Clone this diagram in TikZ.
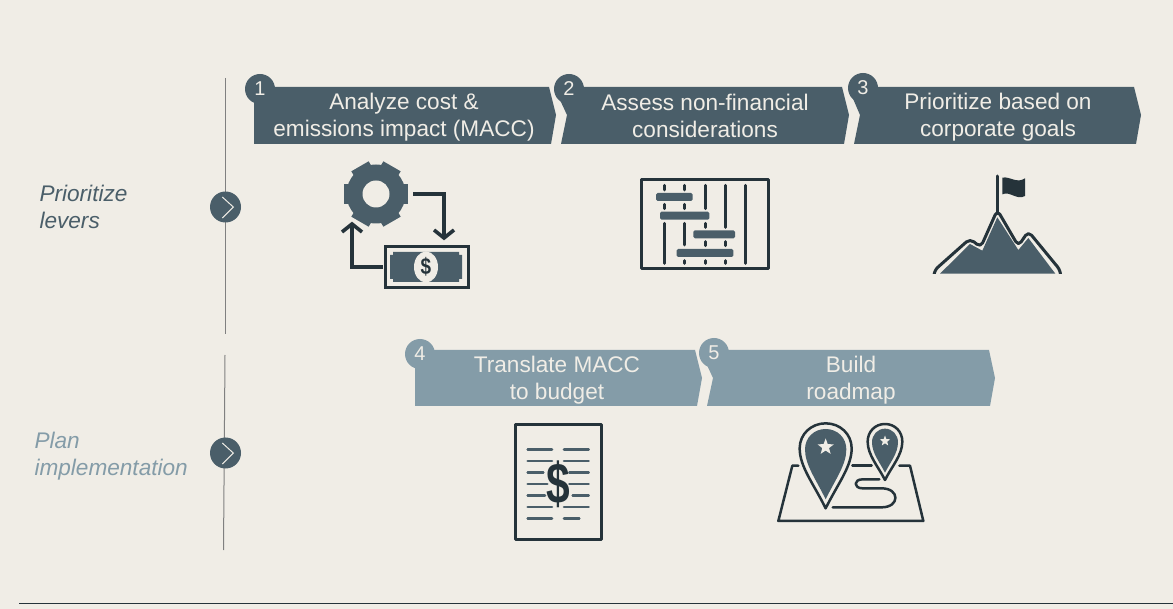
\documentclass[tikz,border=0pt]{standalone}
\usepackage{fontspec}
\usepackage{graphicx}
\setmainfont{Liberation Sans}
\usetikzlibrary{shapes.geometric}
\definecolor{paper}{HTML}{F0EDE6}
\definecolor{slate}{HTML}{4A5E69}
\definecolor{steel}{HTML}{849CA8}
\definecolor{ink}{HTML}{25333A}
\tikzset{
	steptext/.style={text=paper, align=center, font=\fontsize{22.6}{27}\selectfont},
	numdot/.style={circle, minimum size=30pt, inner sep=0pt, text=paper, font=\fontsize{20}{20}\selectfont},
	sidetext/.style={align=left, anchor=west, font=\itshape\fontsize{22.6}{27}\selectfont},
	ticknode/.style={circle, fill=slate, minimum size=31pt, inner sep=0pt},
	tickmark/.style={draw=paper, line width=1pt},
	rail/.style={draw=black!50, line width=1pt},
	inkline/.style={draw=ink, line width=3pt, line cap=round, line join=round},
	arrowline/.style={draw=ink, line width=3.6pt, line join=miter},
	thinink/.style={draw=ink, line width=2.5pt, line cap=round, line join=round},
	docline/.style={draw=slate, line width=2.6pt, line cap=round},
	ganttbar/.style={fill=slate, rounded corners=1.5pt},
	starmark/.style={star, star points=5, star point ratio=2.4, fill=paper, inner sep=0pt}
}
\begin{document}
\begin{tikzpicture}[x=1pt, y=-1pt]
	\fill[paper] (0,0) rectangle (1173,609);
	\useasboundingbox (0,0) rectangle (1173,609);

	% steps
	\fill[slate] (254,87)--(549,87)--(556,115)--(551,144)--(254,144)--cycle;
	\fill[slate] (554,87)--(842,87)--(849,115)--(844,144)--(561,144)--(567,115)--cycle;
	\fill[slate] (848,87)--(1134,87)--(1141,115)--(1136,144)--(854,144)--(860,115)--cycle;
	\fill[steel] (415,350)--(695,350)--(702,378)--(697,406)--(415,406)--cycle;
	\fill[steel] (700,350)--(989,350)--(995,378)--(990,406)--(707,406)--(713,378)--cycle;

	\node[steptext] (analyze) at (404,117.6) {Analyze cost \&\\emissions impact (MACC)};
	\node[steptext] (assess) at (705,116.2) {Assess non-financial\\considerations};
	\node[steptext] (goals) at (998,117.6) {Prioritize based on\\corporate goals};
	\node[steptext] (budget) at (557,380) {Translate MACC\\to budget};
	\node[steptext] (roadmap) at (851,380) {Build\\roadmap};

	\node[numdot, fill=slate] (one) at (260,89) {1};
	\node[numdot, fill=slate] (two) at (569,89) {2};
	\node[numdot, fill=slate] (three) at (863,88) {3};
	\node[numdot, fill=steel] (four) at (420,354) {4};
	\node[numdot, fill=steel] (five) at (714,353) {5};

	% left rail
	\coordinate (railA) at (225,78);
	\coordinate (railB) at (225,334);
	\coordinate (railC) at (225,355);
	\coordinate (railD) at (223.5,550);
	\draw[rail] (railA)--(railB);
	\draw[rail] (railC)--(railD);
	\node[ticknode] (prio) at (225.5,207) {};
	\node[ticknode] (plan) at (225.5,453) {};
	\draw[tickmark] (222.3,197)--(233.3,207)--(222.3,218);
	\draw[tickmark] (222.3,443)--(233.3,453)--(222.3,464);
	\node[sidetext, text=slate] (levers) at (36,207) {Prioritize\\levers};
	\node[sidetext, text=steel] (implement) at (31,456) {Plan\\implementation};

	% gear and money
	\fill[slate] (376,194) circle (29.5);
	\draw[slate, line width=20pt] (344,194)--(408,194);
	\draw[slate, line width=20pt] (360,166.3)--(392,221.7);
	\draw[slate, line width=20pt] (392,166.3)--(360,221.7);
	\fill[paper] (376,194) circle (13.5);
	\draw[arrowline] (413,194)--(444,194)--(444,238);
	\draw[arrowline] (434,230)--(444,238)--(454,230);
	\draw[arrowline] (383,267)--(352,267)--(352,224);
	\draw[arrowline] (342,232)--(352,224)--(362,232);
	\draw[inkline, line join=miter] (385,247) rectangle (468,288);
	\fill[slate] (393,252)--(459,252)--(459,255)--(462,255)--(462,279)--(459,279)--(459,282)--(393,282)--(393,279)--(390,279)--(390,255)--(393,255)--cycle;
	\fill[paper] (426,267) ellipse (12 and 15.5);
	\node[text=ink, font=\bfseries\fontsize{21}{21}\selectfont, inner sep=0pt] (dollar) at (426,267) {\scalebox{0.9}[1.1]{\$}};

	% gantt
	\begin{scope}[shift={(620,160)}, scale=1/3]
		\draw[inkline] (65,60) rectangle (445,327);
		\draw[inkline] (133,76)--(133,90) (133,133)--(133,146) (133,190)--(133,310);
		\draw[inkline] (194,76)--(194,90) (194,133)--(194,146) (194,190)--(194,255) (194,302)--(194,310);
		\draw[inkline] (255,76)--(255,146) (255,190)--(255,202) (255,245)--(255,257) (255,302)--(255,310);
		\draw[inkline] (316,76)--(316,202) (316,245)--(316,257) (316,302)--(316,310);
		\draw[inkline] (377,76)--(377,310);
		\fill[ganttbar] (108,99) rectangle (218,123);
		\fill[ganttbar] (120,155) rectangle (268,179);
		\fill[ganttbar] (220,211) rectangle (345,235);
		\fill[ganttbar] (170,267) rectangle (340,291);
	\end{scope}

	% mountain
	\begin{scope}[shift={(620,160)}, scale=1/3]
		\draw[inkline] (1132,48)--(1132,160);
		\fill[ink] (1147,53) .. controls (1170,48) and (1190,72) .. (1215,55)--(1215,108) .. controls (1190,122) and (1170,92) .. (1147,103)--cycle;
		\begin{scope}
			\clip (900,40) rectangle (1360,341);
			\draw[inkline, rounded corners=5pt] (942,350)--(942,332)--(1050,236)--(1082,262)--(1132,150)--(1195,258)--(1225,214)--(1322,332)--(1322,350);
		\end{scope}
		\fill[slate] (960,341)--(1050,252)--(1087,272)--(1132,172)--(1195,270)--(1225,234)--(1306,341)--cycle;
	\end{scope}

	% page with dollar
	\begin{scope}[shift={(490,410)}, scale=1/3]
		\draw[inkline] (75,45) rectangle (333,390);
		\draw[docline] (113,118)--(186,118) (222,118)--(296,118);
		\draw[docline] (113,153)--(186,153) (222,153)--(296,153);
		\draw[docline] (113,187)--(160,187) (238,187)--(296,187);
		\draw[docline] (113,222)--(172,222) (238,222)--(296,222);
		\draw[docline] (113,256)--(165,256) (248,256)--(296,256);
		\draw[docline] (113,291)--(186,291) (222,291)--(296,291);
		\draw[docline] (113,325)--(186,325) (222,325)--(268,325);
		\node[text=ink, font=\bfseries\fontsize{50}{50}\selectfont, inner sep=0pt] (bigdollar) at (205,222) {\scalebox{0.85}[1.15]{\$}};
	\end{scope}

	% map
	\begin{scope}[shift={(490,410)}, scale=1/3]
		\draw[thinink] (925,167)--(907,167)--(865,333)--(1300,333)--(1260,167)--(1228,167);
		\draw[thinink] (1087,167)--(1145,167);
		\draw[thinink] (1028,292)--(1175,292) .. controls (1230,292) and (1230,235) .. (1175,235)--(1118,235) .. controls (1090,235) and (1090,208) .. (1118,208)--(1168,208);
		\draw[thinink, fill=paper] (1007,295) .. controls (970,220) and (929,170) .. (929,115) .. controls (929,72) and (964,40) .. (1007,40) .. controls (1050,40) and (1085,72) .. (1085,115) .. controls (1085,170) and (1044,220) .. (1007,295)--cycle;
		\fill[slate] (1007,268) .. controls (978,208) and (945,165) .. (945,118) .. controls (945,83) and (972,57) .. (1007,57) .. controls (1042,57) and (1069,83) .. (1069,118) .. controls (1069,165) and (1036,208) .. (1007,268)--cycle;
		\node[starmark, minimum size=17pt] (bigstar) at (1007,111) {};
		\draw[thinink, fill=paper] (1185,210) .. controls (1165,170) and (1133,135) .. (1133,95) .. controls (1133,65) and (1155,42) .. (1185,42) .. controls (1215,42) and (1237,65) .. (1237,95) .. controls (1237,135) and (1205,170) .. (1185,210)--cycle;
		\fill[slate] (1185,188) .. controls (1170,158) and (1146,130) .. (1146,97) .. controls (1146,74) and (1163,56) .. (1185,56) .. controls (1207,56) and (1224,74) .. (1224,97) .. controls (1224,130) and (1200,158) .. (1185,188)--cycle;
		\node[starmark, minimum size=11pt] (smallstar) at (1185,93) {};
	\end{scope}

	% bottom rule
	\coordinate (ruleA) at (19,603);
	\coordinate (ruleB) at (1173,603);
	\draw[ink, line width=1pt] (ruleA)--(ruleB);
\end{tikzpicture}
\end{document}
